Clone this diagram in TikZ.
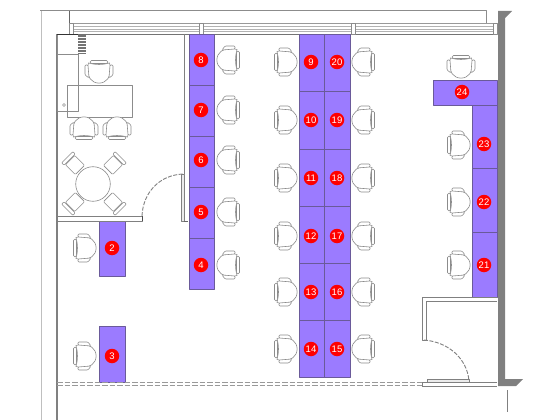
\documentclass[tikz,border=0pt]{standalone}
\usepackage{fontspec}
\setmainfont{Liberation Sans}
\begin{document}
\begin{tikzpicture}[x=1pt,y=-1pt,line join=round,
  desk/.style={fill=deskc,draw=deske,line width=0.8pt},
  num/.style={circle,fill=red,text=white,inner sep=0pt,minimum size=14.5pt,font=\fontsize{9.5}{10}\selectfont},
  thin line/.style={draw=black!45,line width=0.6pt},
  chair/.pic={
    \draw[thin line,rounded corners=1.5pt] (-11.5,-9) rectangle (-8.5,9);
    \draw[thin line,fill=white] (-9,-10.5) .. controls (-1,-13) and (7,-11) .. (10,-5) .. controls (11.5,-2) and (11.5,2) .. (10,5) .. controls (7,11) and (-1,13) .. (-9,10.5) .. controls (-7,4) and (-7,-4) .. (-9,-10.5) -- cycle;
    \draw[thin line,fill=white,rounded corners=1pt] (-7,-14) -- (3,-14) -- (6,-10) -- (-7,-11) -- cycle;
    \draw[thin line,fill=white,rounded corners=1pt] (-7,14) -- (3,14) -- (6,10) -- (-7,11) -- cycle;
  },
  smallchair/.pic={
    \draw[thin line,fill=white,rounded corners=1pt] (-6.5,-7) rectangle (6.5,7);
    \draw[thin line,fill=white,rounded corners=1pt] (-8,-11) rectangle (8,-7.5);
  }]
\definecolor{deskc}{HTML}{9B7BFF}
\definecolor{deske}{HTML}{6A5A9A}
\useasboundingbox (0,0) rectangle (560,420);
\fill[white] (0,0) rectangle (560,420);
% outer lines
\draw[draw=black!45,line width=1pt] (40,11) -- (486,11) -- (486,23);
\draw[draw=black!25,line width=1pt] (41,11) -- (41,420);
\draw[draw=black!60,line width=0.7pt] (69,11) -- (69,33);
\draw[draw=black!50,line width=1.4pt] (57,34) -- (57,420);
% window
\foreach \yy/\cc in {23.5/40,26/30,29/30,31.5/30,34/55}
  \draw[draw=black!\cc,line width=0.7pt] (71,\yy) -- (497,\yy);
\foreach \xx in {71,201,353,495}
  \draw[thin line,fill=white] (\xx-2,23) rectangle (\xx+2,34);
% right wall
\fill[black!50] (498,11) -- (512,11) -- (505,18) -- (505,379) -- (523,379) -- (516,386) -- (498,386) -- cycle;
\draw[draw=black!50,line width=0.6pt] (507,390) -- (507,412);
% desks
\foreach \ya/\yb in {34/85,85/136,136/187,187/238,238/289}
  \draw[desk] (189,\ya) rectangle (214,\yb);
\foreach \ya/\yb in {34/91,91/149,149/206,206/263,263/320,320/377} {
  \draw[desk] (299,\ya) rectangle (324.5,\yb);
  \draw[desk] (324.5,\ya) rectangle (350,\yb);
}
\foreach \ya/\yb in {105/168,168/232,232/297}
  \draw[desk] (472,\ya) rectangle (497,\yb);
\draw[desk] (433,80) rectangle (497,105);
\draw[desk] (99,221) rectangle (125,276);
\draw[desk] (99,326) rectangle (125,382);
% office furniture
\draw[thin line] (57,34) rectangle (78,54);
\draw[draw=black!80,line width=0.7pt] (57,34) -- (78,34);
\draw[thin line] (57,54) -- (57,111) -- (78,111) -- (78,54);
\draw[thin line] (67,85) rectangle (132,117);
\draw[thin line] (64,105) circle (1.5);
\fill[black!55] (78,34) rectangle (85.5,54);
\foreach \yy in {37,40,43,46,49,52} \draw[white,line width=0.4pt] (78,\yy) -- (85.5,\yy);
\draw[thin line] (93,184) circle (17.3);
\foreach \xx/\yy/\rr in {75/165/45,113/165/-45,75/202/135,113/202/-135}
  \pic[rotate=\rr] at (\xx,\yy) {smallchair};
% chairs
\foreach \yy in {60,110,160,212,265} \pic[rotate=180] at (228,\yy) {chair};
\foreach \yy in {62,120,178,236,292,349} {
  \pic at (286,\yy) {chair};
  \pic[rotate=180] at (363,\yy) {chair};
}
\foreach \yy in {145,202,265} \pic at (459,\yy) {chair};
\pic[rotate=-90] at (461,67) {chair};
\pic at (85,248) {chair};
\pic at (85,356) {chair};
\pic[rotate=-90] at (99,72) {chair};
\pic[rotate=90] at (84,128) {chair};
\pic[rotate=90] at (117,128) {chair};
% partitions
\draw[draw=black!50,line width=0.7pt,fill=white] (57,216) rectangle (142,221);
\draw[draw=black!70,line width=0.9pt] (142,216) -- (142,221);
\draw[draw=black!50,line width=0.9pt,dash pattern=on 4pt off 1.5pt] (142,216) .. controls (143,192) and (160,175) .. (183,174);
\draw[draw=black!50,line width=0.8pt] (184,34) -- (184,174);
\draw[draw=black!50,line width=0.7pt,fill=black!8] (181,174) rectangle (184,221);
\draw[draw=black!60,line width=0.7pt] (184,221) -- (188,221);
% lower right room
\draw[draw=black!50,line width=0.7pt] (497,297) -- (422,297) -- (422,340) -- (426,340) -- (426,301) -- (497,301);
\draw[draw=black!50,line width=0.9pt,dash pattern=on 4pt off 1.5pt] (424,340) .. controls (448,342) and (467,358) .. (469,381);
\draw[draw=black!50,line width=0.7pt,fill=black!8] (427,379) rectangle (469,382);
\draw[draw=black!50,line width=0.7pt] (422,386) -- (497,386);
\draw[draw=black!50,line width=0.7pt] (497,382) -- (422,382) -- (422,386);
% dashed front wall
\foreach \yy in {382.5,385.5}
  \draw[draw=black!40,line width=0.9pt,dash pattern=on 5.5pt off 2pt] (57,\yy) -- (422,\yy);
% numbers
\foreach \n/\xx/\yy in {8/201/60,7/201/110,6/201/160,5/201/212,4/201/265,2/112/248,3/112/356,
  9/311/62,20/337/62,10/311/120,19/337/120,11/311/178,18/337/178,12/311/236,17/337/236,
  13/311/292,16/337/292,14/311/349,15/337/349,24/462/92,23/484/144,22/484/202,21/484/265}
  \node[num] (n\n) at (\xx,\yy) {\n};
\end{tikzpicture}
\end{document}
